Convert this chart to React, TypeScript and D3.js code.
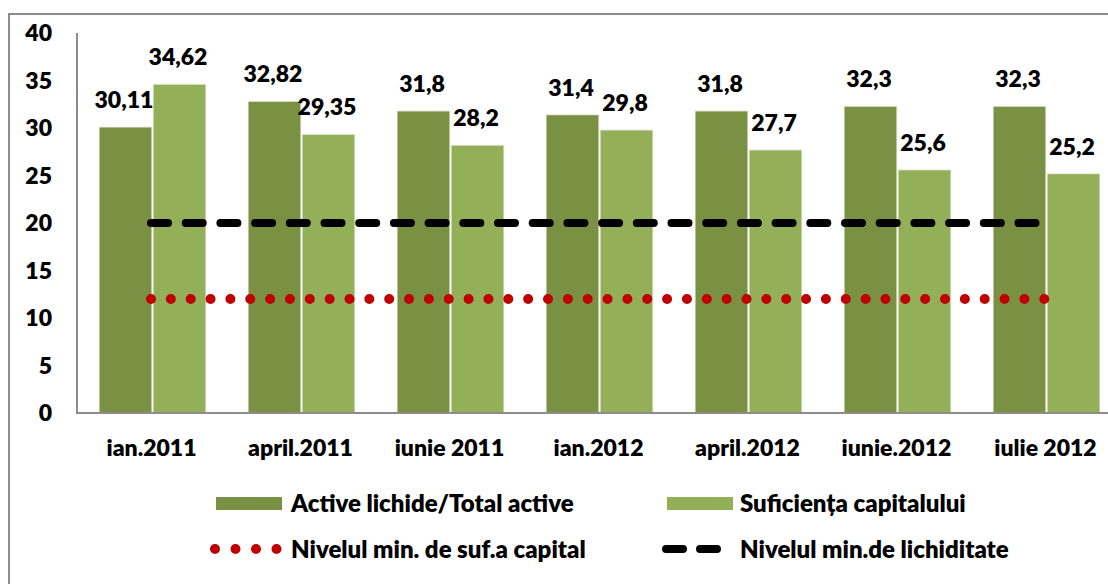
import React from "react";
import * as d3 from "d3";

const categories = ["ian.2011", "april.2011", "iunie 2011", "ian.2012", "april.2012", "iunie.2012", "iulie 2012"];
const activeLichide = [30.11, 32.82, 31.8, 31.4, 31.8, 32.3, 32.3];
const suficienta = [34.62, 29.35, 28.2, 29.8, 27.7, 25.6, 25.2];
const minCapital = [12, 12, 12, 12, 12, 12, 12];
const minLichiditate = [20, 20, 20, 20, 20, 20, 20];
const yTicks = [0, 5, 10, 15, 20, 25, 30, 35, 40];
const seriesNames = ["Active lichide/Total active", "Suficiența capitalului", "Nivelul min. de suf.a capital", "Nivelul min.de lichiditate"];

const W = 1108;
const H = 584;
const DARK = "#7A9143";
const LIGHT = "#93AF58";
const RED = "#C00000";
const AXIS = "#8C8C8C";
const FONT = "Lato, 'Open Sans', sans-serif";

const fmt = (v: number) => String(v).replace(".", ",");

export default function App() {
  const x0 = d3.scaleBand<string>().domain(categories).range([78, 1121]).paddingInner(0.282).paddingOuter(0.141);
  const x1 = d3.scaleBand<string>().domain(["a", "b"]).range([0, x0.bandwidth()]).paddingInner(0.02);
  const y = d3.scaleLinear().domain([0, 40]).range([413, 33]);
  const cx = (c: string) => (x0(c) as number) + x0.bandwidth() / 2;

  const lineGen = d3.line<number>().x((_, i) => cx(categories[i])).y((d) => y(d));

  return (
    <div style={{ position: "absolute", left: 0, top: 0 }}>
      <svg width={W} height={H} style={{ display: "block" }} fontFamily={FONT}>
        <rect x={0} y={0} width={W} height={H} fill="#fff" />
        <rect x={9} y={14} width={1200} height={700} fill="none" stroke={AXIS} strokeWidth={2} />
        {/* bars */}
        {categories.map((c, i) => (
          <g key={c}>
            <rect x={(x0(c) as number) + (x1("a") as number)} y={y(activeLichide[i])} width={x1.bandwidth()} height={y(0) - y(activeLichide[i])} fill={DARK} stroke="#f2f2f2" strokeWidth={1} />
            <rect x={(x0(c) as number) + (x1("b") as number)} y={y(suficienta[i])} width={x1.bandwidth()} height={y(0) - y(suficienta[i])} fill={LIGHT} stroke="#f2f2f2" strokeWidth={1} />
          </g>
        ))}
        {/* axes */}
        <line x1={77} x2={77} y1={y(40)} y2={y(0)} stroke={AXIS} strokeWidth={2} />
        <line x1={76} x2={1120} y1={y(0)} y2={y(0)} stroke={AXIS} strokeWidth={2} />
        {/* lines */}
        <path d={lineGen(minLichiditate) as string} fill="none" stroke="#000" strokeWidth={8} strokeLinecap="round" strokeDasharray="17 17.7" transform="translate(-1.5,0)" />
        <path d={lineGen(minCapital) as string} fill="none" stroke={RED} strokeWidth={10} strokeLinecap="round" strokeDasharray="0 19.85" transform="translate(-1.5,0)" />
        {/* y ticks */}
        <g fontSize={23} fontWeight={800} fill="#000">
          {yTicks.map((t) => (
            <text key={t} x={52} y={y(t) + 8} textAnchor="end">{t}</text>
          ))}
          {/* x labels */}
          {categories.map((c) => (
            <text key={c} x={cx(c) - 1} y={456} textAnchor="middle">{c}</text>
          ))}
          {/* value labels */}
          {categories.map((c, i) => (
            <g key={"l" + c}>
              <text x={(x0(c) as number) + (x1("a") as number) + x1.bandwidth() / 2 - 1.5} y={y(activeLichide[i]) - 19} textAnchor="middle">{fmt(activeLichide[i])}</text>
              <text x={(x0(c) as number) + (x1("b") as number) + x1.bandwidth() / 2 - 1.5} y={y(suficienta[i]) - 19} textAnchor="middle">{fmt(suficienta[i])}</text>
            </g>
          ))}
        </g>
        {/* legend */}
        <g fontSize={24} fontWeight={800} fill="#000">
          <rect x={216} y={497} width={66} height={13} fill={DARK} />
          <text x={291} y={512}>{seriesNames[0]}</text>
          <rect x={667} y={497} width={66} height={13} fill={LIGHT} />
          <text x={740} y={512}>{seriesNames[1]}</text>
          <line x1={215} x2={277} y1={549} y2={549} stroke={RED} strokeWidth={10} strokeLinecap="round" strokeDasharray="0 20.5" />
          <text x={291} y={558}>{seriesNames[2]}</text>
          <line x1={666} x2={721} y1={549} y2={549} stroke="#000" strokeWidth={8} strokeLinecap="round" strokeDasharray="17 17" />
          <text x={740} y={558}>{seriesNames[3]}</text>
        </g>
      </svg>
    </div>
  );
}
